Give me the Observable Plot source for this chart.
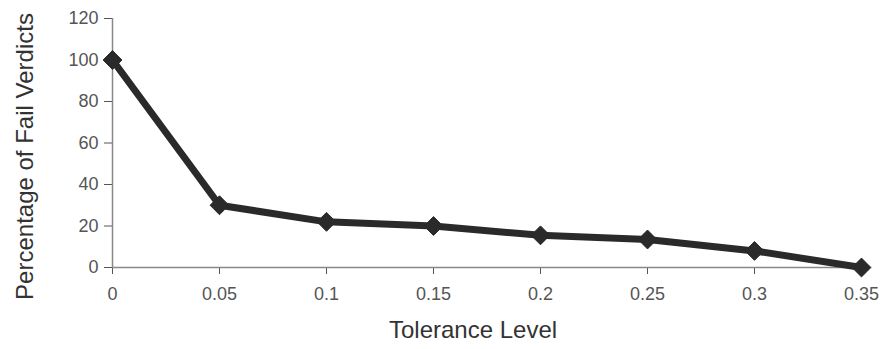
<!DOCTYPE html>
<html>
<head>
<meta charset="utf-8">
<script src="https://cdn.jsdelivr.net/npm/d3@7"></script>
<script src="https://cdn.jsdelivr.net/npm/@observablehq/plot@0.6"></script>
<style>
  html, body { margin: 0; padding: 0; background: #fff; }
  #chart { width: 883px; height: 349px; }
</style>
</head>
<body>
<div id="chart"></div>
<script>
const tolerance = [0, 0.05, 0.1, 0.15, 0.2, 0.25, 0.3, 0.35];
const failPct = [100, 30, 22, 20, 15.5, 13.5, 8, 0];
const yTicks = [0, 20, 40, 60, 80, 100, 120];
const xTickLabels = ["0", "0.05", "0.1", "0.15", "0.2", "0.25", "0.3", "0.35"];
const xLabel = "Tolerance Level";
const yLabel = "Percentage of Fail Verdicts";

const data = tolerance.map((t, i) => ({t, v: failPct[i]}));

const chart = Plot.plot({
  width: 883,
  height: 349,
  marginLeft: 112,
  marginRight: 22,
  marginTop: 18,
  marginBottom: 82,
  style: {fontSize: "18px", fontFamily: "'Liberation Sans', Arial, sans-serif", color: "#555", background: "#fff"},
  x: {domain: [0, 0.35], ticks: tolerance, tickFormat: (d, i) => xTickLabels[i], tickSize: 7, tickPadding: 13, label: null},
  y: {domain: [0, 120], ticks: yTicks, tickSize: 8, tickPadding: 6, label: null},
  marks: [
    Plot.ruleX([0], {y1: 0, y2: 120, stroke: "#888", strokeWidth: 1.5}),
    Plot.ruleY([0], {x1: 0, x2: 0.35, stroke: "#888", strokeWidth: 1.5}),
    Plot.line(data, {x: "t", y: "v", stroke: "#2a2a2a", strokeWidth: 7, strokeLinejoin: "miter"}),
    Plot.dot(data, {x: "t", y: "v", symbol: "diamond2", r: 8.5, fill: "#2a2a2a", stroke: "#2a2a2a", strokeWidth: 1}),
    Plot.text([xLabel], {frameAnchor: "bottom", textAnchor: "middle", dx: -14, dy: 70, fontSize: 24, fill: "#333", text: d => d}),
    Plot.text([yLabel], {frameAnchor: "left", textAnchor: "middle", rotate: -90, dx: -87, dy: 13.5, fontSize: 24, fill: "#333", text: d => d})
  ]
});
document.getElementById("chart").appendChild(chart);
</script>
</body>
</html>
